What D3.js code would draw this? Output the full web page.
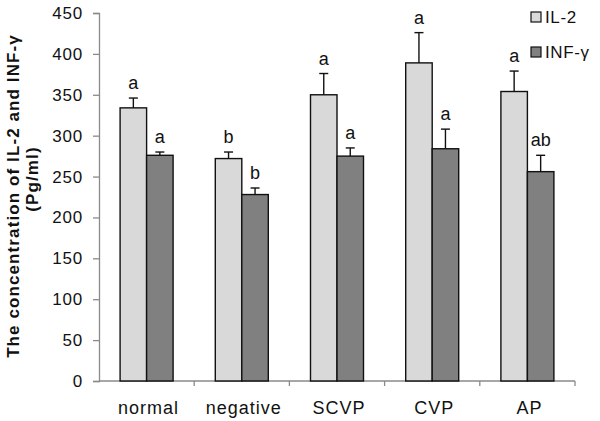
<!DOCTYPE html>
<html>
<head>
<meta charset="utf-8">
<script src="https://cdn.jsdelivr.net/npm/d3@7"></script>
<style>
  body { margin: 0; background: #fff; }
  text { font-family: "Liberation Sans", Arial, sans-serif; fill: #111; }
</style>
</head>
<body>
<script>
// cytokine concentrations
var groups = ['normal', 'negative', 'SCVP', 'CVP', 'AP'];
var series = ['IL-2', 'INF-γ'];
var il2 = [334, 272, 350, 389, 354];
var il2Err = [12, 8, 26, 37, 25];
var inf = [276, 228, 275, 284, 256];
var infErr = [4, 8, 10, 24, 20];
var il2Sig = ['a', 'b', 'a', 'a', 'a'];
var infSig = ['a', 'b', 'a', 'a', 'ab'];
var yTicks = [0, 50, 100, 150, 200, 250, 300, 350, 400, 450];

var colors = ['#d9d9d9', '#808080'];

var W = 600, H = 421;
var plotL = 99, plotR = 575, plotT = 13, plotB = 381;

var svg = d3.select('body').append('svg')
    .attr('width', W)
    .attr('height', H);

var x = d3.scaleBand()
    .domain(groups)
    .range([plotL, plotR]);

var xi = d3.scaleBand()
    .domain(series)
    .range([0, 53]);

var y = d3.scaleLinear()
    .domain([0, 450])
    .range([plotB, plotT]);

// build rows for the bars
var rows = [];
groups.forEach(function (g, i) {
  rows.push({g: g, s: series[0], v: il2[i], e: il2Err[i], sig: il2Sig[i], c: 0});
  rows.push({g: g, s: series[1], v: inf[i], e: infErr[i], sig: infSig[i], c: 1});
});

var off = (x.bandwidth() - 53) / 2;

// y axis
var yAxis = d3.axisLeft(y)
    .tickValues(yTicks)
    .tickSize(6)
    .tickPadding(10)
    .tickFormat(d3.format('d'));

var gy = svg.append('g')
    .attr('transform', 'translate(' + plotL + ',0)')
    .call(yAxis);
gy.select('.domain').attr('stroke', '#8a8a8a').attr('stroke-width', 1.3);
gy.selectAll('.tick line').attr('stroke', '#8a8a8a').attr('stroke-width', 1.3);
gy.selectAll('.tick text')
    .attr('font-size', '17px')
    .attr('font-family', '"Liberation Sans", Arial, sans-serif')
    .attr('fill', '#111')
    .attr('letter-spacing', '0.8px');

// x axis: line, ticks on band edges, labels at band centres
svg.append('line')
    .attr('x1', plotL).attr('x2', plotR)
    .attr('y1', plotB).attr('y2', plotB)
    .attr('stroke', '#8a8a8a').attr('stroke-width', 1.3);

var edges = groups.map(function (g) { return x(g) + x.bandwidth(); });
svg.selectAll('.xtick')
    .data(edges)
    .enter()
    .append('line')
    .attr('class', 'xtick')
    .attr('x1', function (d) { return d; })
    .attr('x2', function (d) { return d; })
    .attr('y1', plotB)
    .attr('y2', plotB + 5)
    .attr('stroke', '#8a8a8a').attr('stroke-width', 1.3);

svg.selectAll('.xlab')
    .data(groups)
    .enter()
    .append('text')
    .attr('class', 'xlab')
    .attr('x', function (d) { return x(d) + x.bandwidth() / 2 + 2; })
    .attr('y', 414)
    .attr('text-anchor', 'middle')
    .attr('font-size', '18px')
    .attr('letter-spacing', '1px')
    .text(function (d) { return d; });

// bars
svg.selectAll('.bar')
    .data(rows)
    .enter()
    .append('rect')
    .attr('class', 'bar')
    .attr('x', function (d) { return x(d.g) + off + xi(d.s); })
    .attr('y', function (d) { return y(d.v); })
    .attr('width', xi.bandwidth())
    .attr('height', function (d) { return plotB - y(d.v); })
    .attr('fill', function (d) { return colors[d.c]; })
    .attr('stroke', '#111')
    .attr('stroke-width', 1.4);

// error bars (upper only)
var cx = function (d) { return x(d.g) + off + xi(d.s) + xi.bandwidth() / 2; };

svg.selectAll('.err')
    .data(rows)
    .enter()
    .append('line')
    .attr('class', 'err')
    .attr('x1', cx).attr('x2', cx)
    .attr('y1', function (d) { return y(d.v); })
    .attr('y2', function (d) { return y(d.v + d.e); })
    .attr('stroke', '#111').attr('stroke-width', 1.4);

svg.selectAll('.cap')
    .data(rows)
    .enter()
    .append('line')
    .attr('class', 'cap')
    .attr('x1', function (d) { return cx(d) - 4.5; })
    .attr('x2', function (d) { return cx(d) + 4.5; })
    .attr('y1', function (d) { return y(d.v + d.e); })
    .attr('y2', function (d) { return y(d.v + d.e); })
    .attr('stroke', '#111').attr('stroke-width', 1.4);

// significance letters
svg.selectAll('.sig')
    .data(rows)
    .enter()
    .append('text')
    .attr('class', 'sig')
    .attr('x', cx)
    .attr('y', function (d) { return y(d.v + d.e) - 9; })
    .attr('text-anchor', 'middle')
    .attr('font-size', '18px')
    .text(function (d) { return d.sig; });

// legend
var lg = svg.selectAll('.leg')
    .data(series)
    .enter()
    .append('g')
    .attr('class', 'leg')
    .attr('transform', function (d, i) { return 'translate(531,' + (12 + i * 35) + ')'; });

lg.append('rect')
    .attr('width', 10).attr('height', 10)
    .attr('fill', function (d, i) { return colors[i]; })
    .attr('stroke', '#111').attr('stroke-width', 1.2);

lg.append('text')
    .attr('x', 14)
    .attr('y', 11)
    .attr('font-size', '17px')
    .attr('letter-spacing', '0.6px')
    .text(function (d) { return d; });

// y title
svg.append('text')
    .attr('transform', 'translate(18.5,196) rotate(-90)')
    .attr('text-anchor', 'middle')
    .attr('font-size', '17px')
    .attr('font-weight', 'bold')
    .attr('letter-spacing', '1.1px')
    .text('The concentration of IL-2 and INF-γ');

svg.append('text')
    .attr('transform', 'translate(38,179) rotate(-90)')
    .attr('text-anchor', 'middle')
    .attr('font-size', '17px')
    .attr('font-weight', 'bold')
    .attr('letter-spacing', '1.1px')
    .text('(Pg/ml)');
</script>
</body>
</html>
